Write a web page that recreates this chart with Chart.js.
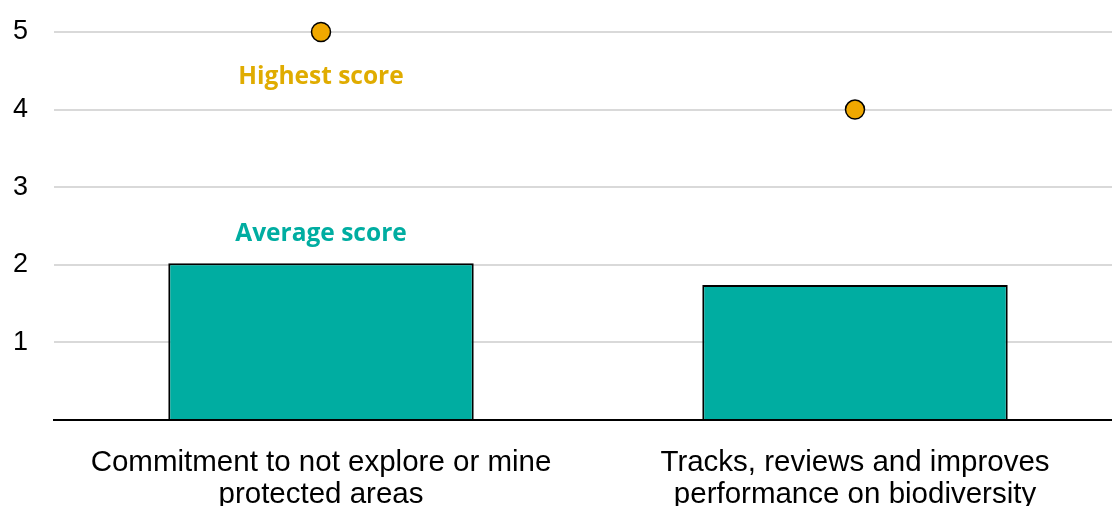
<!DOCTYPE html>
<html>
<head>
<meta charset="utf-8">
<script src="https://cdn.jsdelivr.net/npm/chart.js@4"></script>
<style>
  html, body { margin: 0; padding: 0; background: #fff; overflow: hidden; }
  #wrap { width: 1122px; height: 506px; }
</style>
</head>
<body>
<div id="wrap"><canvas id="chart" width="1122" height="506"></canvas></div>
<script>
// Données
const categories = [
    ['Commitment to not explore or mine', 'protected areas'],
    ['Tracks, reviews and improves', 'performance on biodiversity']
];
const averageScores = [2.02, 1.74];
const highestScores = [5, 4];
const yTicks = [1, 2, 3, 4, 5];

const TEAL = '#00ADA1';
const GOLD = '#E0AC00';

// Étiquettes "Highest score" / "Average score"
const seriesLabels = {
    id: 'seriesLabels',
    afterDatasetsDraw(chart) {
        const ctx = chart.ctx;
        const x = chart.scales.x;
        const y = chart.scales.y;
        ctx.save();
        ctx.font = 'bold 24.5px "Open Sans", sans-serif';
        ctx.textAlign = 'center';
        ctx.textBaseline = 'middle';
        ctx.fillStyle = GOLD;
        ctx.fillText('Highest score', x.getPixelForValue(0), y.getPixelForValue(highestScores[0]) + 45);
        ctx.fillStyle = TEAL;
        ctx.fillText('Average score', x.getPixelForValue(0), y.getPixelForValue(averageScores[0]) - 29);
        ctx.restore();
    }
};

new Chart(document.getElementById('chart').getContext('2d'), {
    data: {
        labels: categories,
        datasets: [{
            type: 'scatter',
            label: 'Highest score',
            data: highestScores,
            showLine: false,
            clip: false,
            pointStyle: 'circle',
            pointRadius: 9.5,
            pointBackgroundColor: '#F0A800',
            pointBorderColor: '#000',
            pointBorderWidth: 1.5,
            order: 0
        }, {
            type: 'bar',
            label: 'Average score',
            data: averageScores,
            backgroundColor: TEAL,
            borderColor: '#000',
            borderWidth: 2,
            categoryPercentage: 1,
            barPercentage: 0.572,
            order: 1
        }]
    },
    options: {
        responsive: false,
        animation: false,
        layout: { autoPadding: false, padding: { top: 32, right: 0, left: 0, bottom: 0 } },
        plugins: {
            legend: { display: false },
            tooltip: { enabled: false }
        },
        scales: {
            x: {
                type: 'category',
                offset: true,
                grid: { display: false, drawTicks: false },
                border: { display: true, color: '#000', width: 2 },
                ticks: {
                    color: '#000',
                    font: { family: '"Liberation Sans", Arial, sans-serif', size: 29.5, lineHeight: 1.08 },
                    padding: 27,
                    maxRotation: 0,
                    autoSkip: false
                },
                afterFit(scale) { scale.height = 86; }
            },
            y: {
                min: 0,
                max: 5,
                afterBuildTicks(scale) {
                    scale.ticks = [0].concat(yTicks).map(v => ({ value: v }));
                },
                grid: {
                    color: ctx => ctx.tick.value === 0 ? 'rgba(0,0,0,0)' : '#D9D9D9',
                    lineWidth: 2,
                    drawTicks: false
                },
                border: { display: false },
                ticks: {
                    color: '#000',
                    font: { family: '"Liberation Sans", Arial, sans-serif', size: 27, lineHeight: 0.5 },
                    padding: 26,
                    callback: v => v === 0 ? '' : v
                },
                afterFit(scale) {
                    scale.width = 54;
                    scale.paddingTop = 0;
                }
            }
        }
    },
    plugins: [seriesLabels]
});
</script>
</body>
</html>
